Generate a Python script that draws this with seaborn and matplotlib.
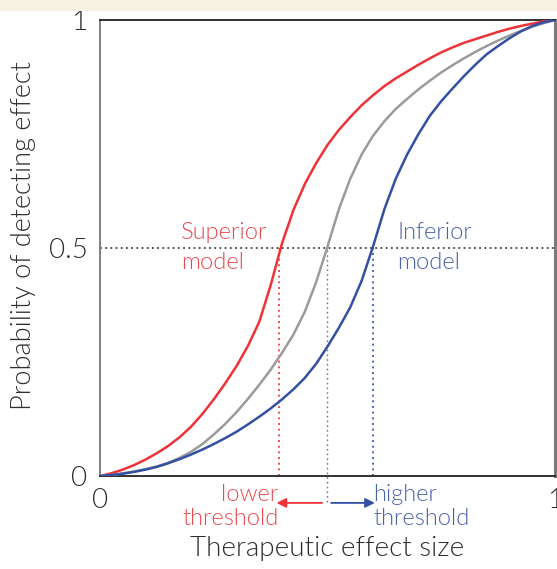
import numpy as np
import pandas as pd
import matplotlib
matplotlib.use("Agg")
import matplotlib.pyplot as plt
from matplotlib.patches import Rectangle
import seaborn as sns

# effect size grid and curve values
effect = [0.000, 0.025, 0.050, 0.075, 0.100, 0.125, 0.150, 0.175, 0.200, 0.225,
          0.250, 0.275, 0.300, 0.325, 0.350, 0.375, 0.400, 0.425, 0.450, 0.475,
          0.500, 0.525, 0.550, 0.575, 0.600, 0.625, 0.650, 0.675, 0.700, 0.725,
          0.750, 0.775, 0.800, 0.825, 0.850, 0.875, 0.900, 0.925, 0.950, 0.975, 1.000]
superior = [0.000, 0.006, 0.014, 0.024, 0.036, 0.050, 0.066, 0.085, 0.108, 0.136,
            0.168, 0.203, 0.241, 0.285, 0.338, 0.418, 0.510, 0.583, 0.640, 0.686,
            0.726, 0.759, 0.787, 0.813, 0.835, 0.855, 0.872, 0.887, 0.902, 0.916,
            0.929, 0.940, 0.950, 0.958, 0.966, 0.974, 0.981, 0.987, 0.992, 0.997, 1.000]
reference = [0.000, 0.002, 0.006, 0.010, 0.015, 0.021, 0.029, 0.040, 0.053, 0.070,
             0.091, 0.114, 0.140, 0.169, 0.200, 0.233, 0.270, 0.310, 0.360, 0.425,
             0.503, 0.585, 0.652, 0.705, 0.746, 0.778, 0.805, 0.827, 0.848, 0.867,
             0.885, 0.901, 0.916, 0.930, 0.943, 0.955, 0.966, 0.976, 0.985, 0.993, 1.000]
inferior = [0.000, 0.002, 0.005, 0.009, 0.014, 0.020, 0.028, 0.037, 0.047, 0.058,
            0.070, 0.083, 0.097, 0.113, 0.130, 0.148, 0.168, 0.190, 0.215, 0.246,
            0.284, 0.325, 0.370, 0.428, 0.503, 0.585, 0.652, 0.705, 0.750, 0.790,
            0.822, 0.850, 0.877, 0.902, 0.925, 0.943, 0.960, 0.975, 0.987, 0.995, 1.000]

# where each curve crosses 0.5
thresholds = {"superior": 0.393, "reference": 0.498, "inferior": 0.599}

RED = "#ee3338"
GREY = "#9b9b9b"
BLUE = "#3350a2"
RED_TXT = "#ea4a4f"
BLUE_TXT = "#4b62ae"
INK = "#2e2e2e"

sns.set_style("white")
plt.rcParams["font.family"] = ["Lato", "DejaVu Sans"]
plt.rcParams["font.weight"] = 300
plt.rcParams["axes.labelweight"] = 300

n = len(effect)
df = pd.DataFrame({"effect": effect * 3,
                   "prob": superior + reference + inferior,
                   "model": ["superior"] * n + ["reference"] * n + ["inferior"] * n})

fig = plt.figure(figsize=(5.57, 5.69), dpi=100)
ax = fig.add_axes([100 / 557, 1 - 476 / 569, 455 / 557, 456 / 569])

# beige strip at the top
fig.patches.append(Rectangle((0, 1 - 11 / 569), 1, 11 / 569, transform=fig.transFigure,
                             facecolor="#f5f1e3", edgecolor="none", zorder=0))

sns.lineplot(data=df, x="effect", y="prob", hue="model",
             palette={"superior": RED, "reference": GREY, "inferior": BLUE},
             linewidth=1.8, legend=False, ax=ax, zorder=3)

# half-probability guide and threshold drops
dots = (0, (1.2, 2.2))
ax.axhline(0.5, color="#222222", linestyle=dots, linewidth=1.1, zorder=2)
ax.plot([thresholds["superior"]] * 2, [0, 0.5], color=RED, linestyle=dots, linewidth=1.2,
        zorder=2)
ax.plot([thresholds["inferior"]] * 2, [0, 0.5], color=BLUE, linestyle=dots, linewidth=1.2,
        zorder=2)
ax.plot([thresholds["reference"]] * 2, [-0.058, 0.5], color="#777777", linestyle=dots,
        linewidth=1.0, zorder=2, clip_on=False)

# arrows under the axis
ax.annotate("", xy=(thresholds["superior"] - 0.005, -0.059),
            xytext=(thresholds["reference"] - 0.01, -0.059),
            arrowprops=dict(arrowstyle="-|>", color=RED, lw=1.3, mutation_scale=14,
                            shrinkA=0, shrinkB=0),
            annotation_clip=False)
ax.annotate("", xy=(thresholds["inferior"] + 0.005, -0.059),
            xytext=(thresholds["reference"] + 0.01, -0.059),
            arrowprops=dict(arrowstyle="-|>", color=BLUE, lw=1.3, mutation_scale=14,
                            shrinkA=0, shrinkB=0),
            annotation_clip=False)

lab = dict(fontsize=17, va="center")
ax.text(0.178, 0.535, "Superior", color=RED_TXT, ha="left", **lab)
ax.text(0.178, 0.468, "model", color=RED_TXT, ha="left", **lab)
ax.text(0.654, 0.535, "Inferior", color=BLUE_TXT, ha="left", **lab)
ax.text(0.654, 0.468, "model", color=BLUE_TXT, ha="left", **lab)
ax.text(0.392, -0.04, "lower", color=RED_TXT, ha="right", **lab)
ax.text(0.392, -0.093, "threshold", color=RED_TXT, ha="right", **lab)
ax.text(0.600, -0.04, "higher", color=BLUE_TXT, ha="left", **lab)
ax.text(0.600, -0.093, "threshold", color=BLUE_TXT, ha="left", **lab)

ax.set_xlim(0, 1)
ax.set_ylim(0, 1)
ax.set_xticks([0, 1])
ax.set_xticklabels(["0", "1"])
ax.set_yticks([0, 0.5, 1])
ax.set_yticklabels(["0", "0.5", "1"])
ax.tick_params(length=0, labelsize=20, colors=INK, pad=9)
ax.set_xlabel("Therapeutic effect size", fontsize=20, color=INK, labelpad=16)
ax.set_ylabel("Probability of detecting effect", fontsize=19.5, color=INK)
ax.yaxis.set_label_coords(-0.14, 0.528)

for side in ["top", "bottom"]:
    ax.spines[side].set_color("#222222")
    ax.spines[side].set_linewidth(1.3)
ax.spines["left"].set_color("#777777")
ax.spines["left"].set_linewidth(1.3)
ax.spines["right"].set_color("#7a7a7a")
ax.spines["right"].set_linewidth(2.2)

fig.savefig("out.png", dpi=100)
